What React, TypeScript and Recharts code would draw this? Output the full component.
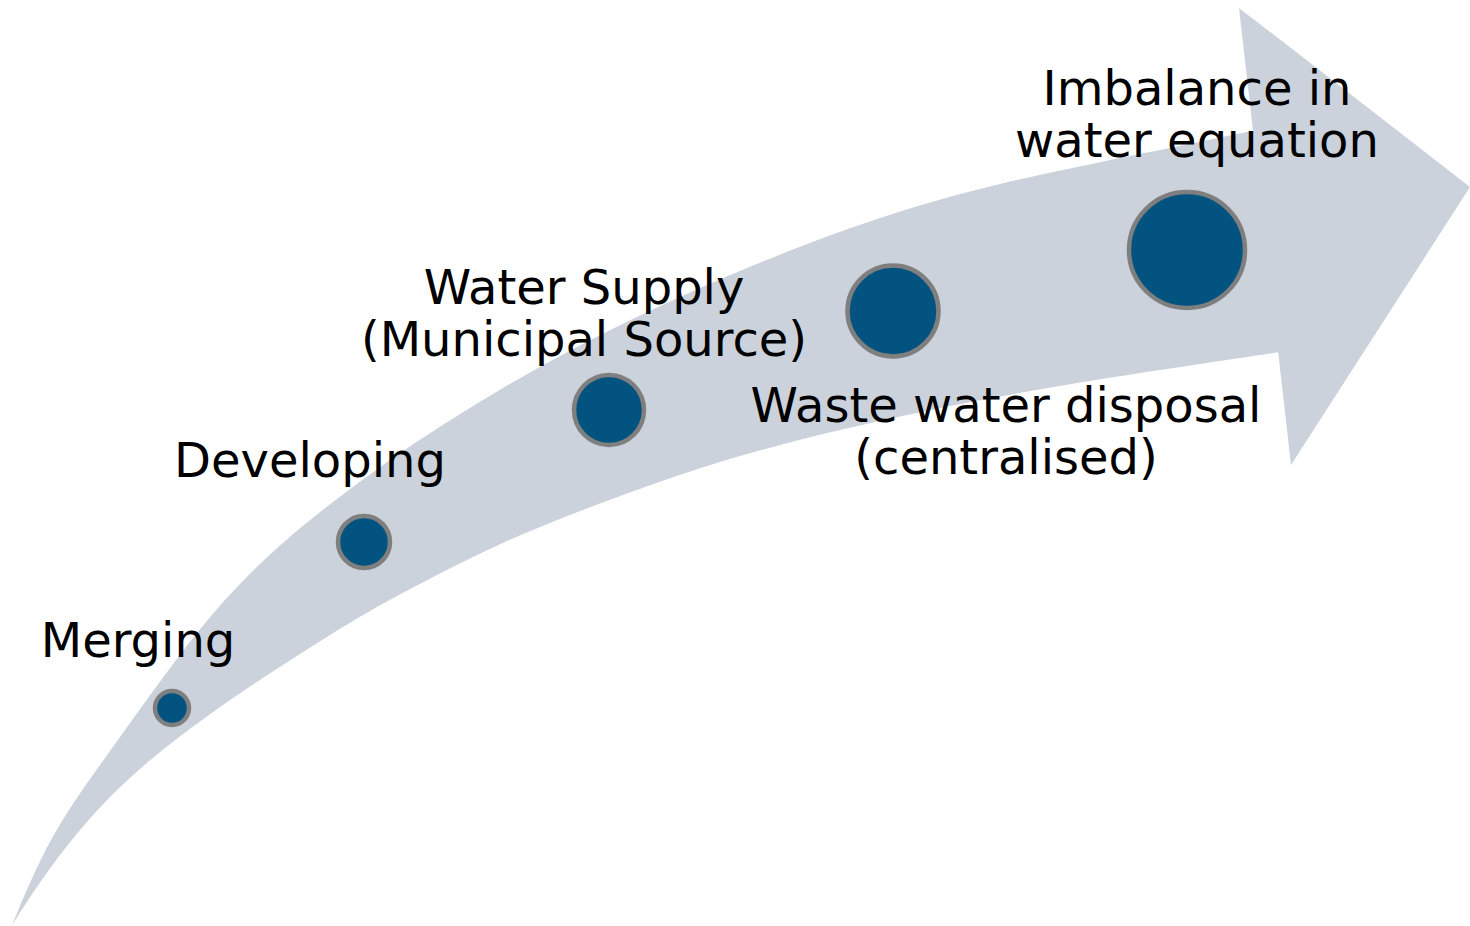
import React from 'react';
import { ComposedChart, Area, Scatter, XAxis, YAxis } from 'recharts';

// the whole picture is one pixel-sized plane: x 0..1470, y 0..926 (top = 0)
const bodyX = [12, 50, 100, 150, 200, 250, 300, 350, 400, 500, 600, 700, 800, 900, 1000, 1100, 1200, 1280];
const bodyLower = [925, 866, 805, 759, 721, 686, 654, 622, 594, 542, 503, 467, 439, 416, 396, 379, 364, 352];
const bodyUpper = [925, 835, 765, 695, 627, 572, 527, 489, 452, 388, 334, 287, 246, 210, 183, 162, 142, 125];

const headX = [1239, 1291, 1470];
const headLower = [8, 465, 187];
const headUpper = [8, 48, 187];

const stageX = [172, 364, 609, 893, 1187];
const stageY = [708, 542, 410, 311, 250];
const stageR = [17, 26, 35, 45.5, 58];

const labelLines = [
  ['Merging'],
  ['Developing'],
  ['Water Supply', '(Municipal Source)'],
  ['Waste water disposal', '(centralised)'],
  ['Imbalance in', 'water equation'],
];
const labelX = [138, 310, 584, 1006, 1197];
const labelY = [657, 477, 304, 422, 105];

const bodyData = bodyX.map((x, i) => ({ x, band: [bodyLower[i], bodyUpper[i]] }));
const headData = headX.map((x, i) => ({ x, band: [headLower[i], headUpper[i]] }));
const stageData = stageX.map((x, i) => ({ x, y: stageY[i], r: stageR[i] }));
const labelData = labelX.map((x, i) => ({ x, y: labelY[i], lines: labelLines[i] }));

const Bubble = (props: any) => {
  const { cx, cy, payload } = props;
  return <circle cx={cx} cy={cy} r={payload.r} fill="#02537f" stroke="#7f7f7f" strokeWidth={4.5} />;
};

const StageLabel = (props: any) => {
  const { cx, cy, payload } = props;
  return (
    <text x={cx} y={cy} textAnchor="middle" fontSize={48} fontFamily="DejaVu Sans" fill="#000">
      {payload.lines.map((line: string, i: number) => (
        <tspan key={i} x={cx} y={cy + i * 52}>{line}</tspan>
      ))}
    </text>
  );
};

const App = () => {
  return (
    <div style={{ position: 'absolute', left: 0, top: 0, width: 1470, height: 926, background: '#fff' }}>
      <ComposedChart width={1470} height={926} margin={{ top: 0, right: 0, bottom: 0, left: 0 }}>
        <XAxis type="number" dataKey="x" domain={[0, 1470]} allowDataOverflow hide />
        <YAxis type="number" domain={[0, 926]} reversed allowDataOverflow hide />
        <Area data={bodyData} dataKey="band" type="basis" fill="#cbd2db" fillOpacity={1} stroke="none" dot={false} activeDot={false} isAnimationActive={false} />
        <Area data={headData} dataKey="band" type="linear" fill="#cbd2db" fillOpacity={1} stroke="none" dot={false} activeDot={false} isAnimationActive={false} />
        <Scatter data={stageData} dataKey="y" shape={Bubble} isAnimationActive={false} />
        <Scatter data={labelData} dataKey="y" shape={StageLabel} isAnimationActive={false} />
      </ComposedChart>
    </div>
  );
};

export default App;
